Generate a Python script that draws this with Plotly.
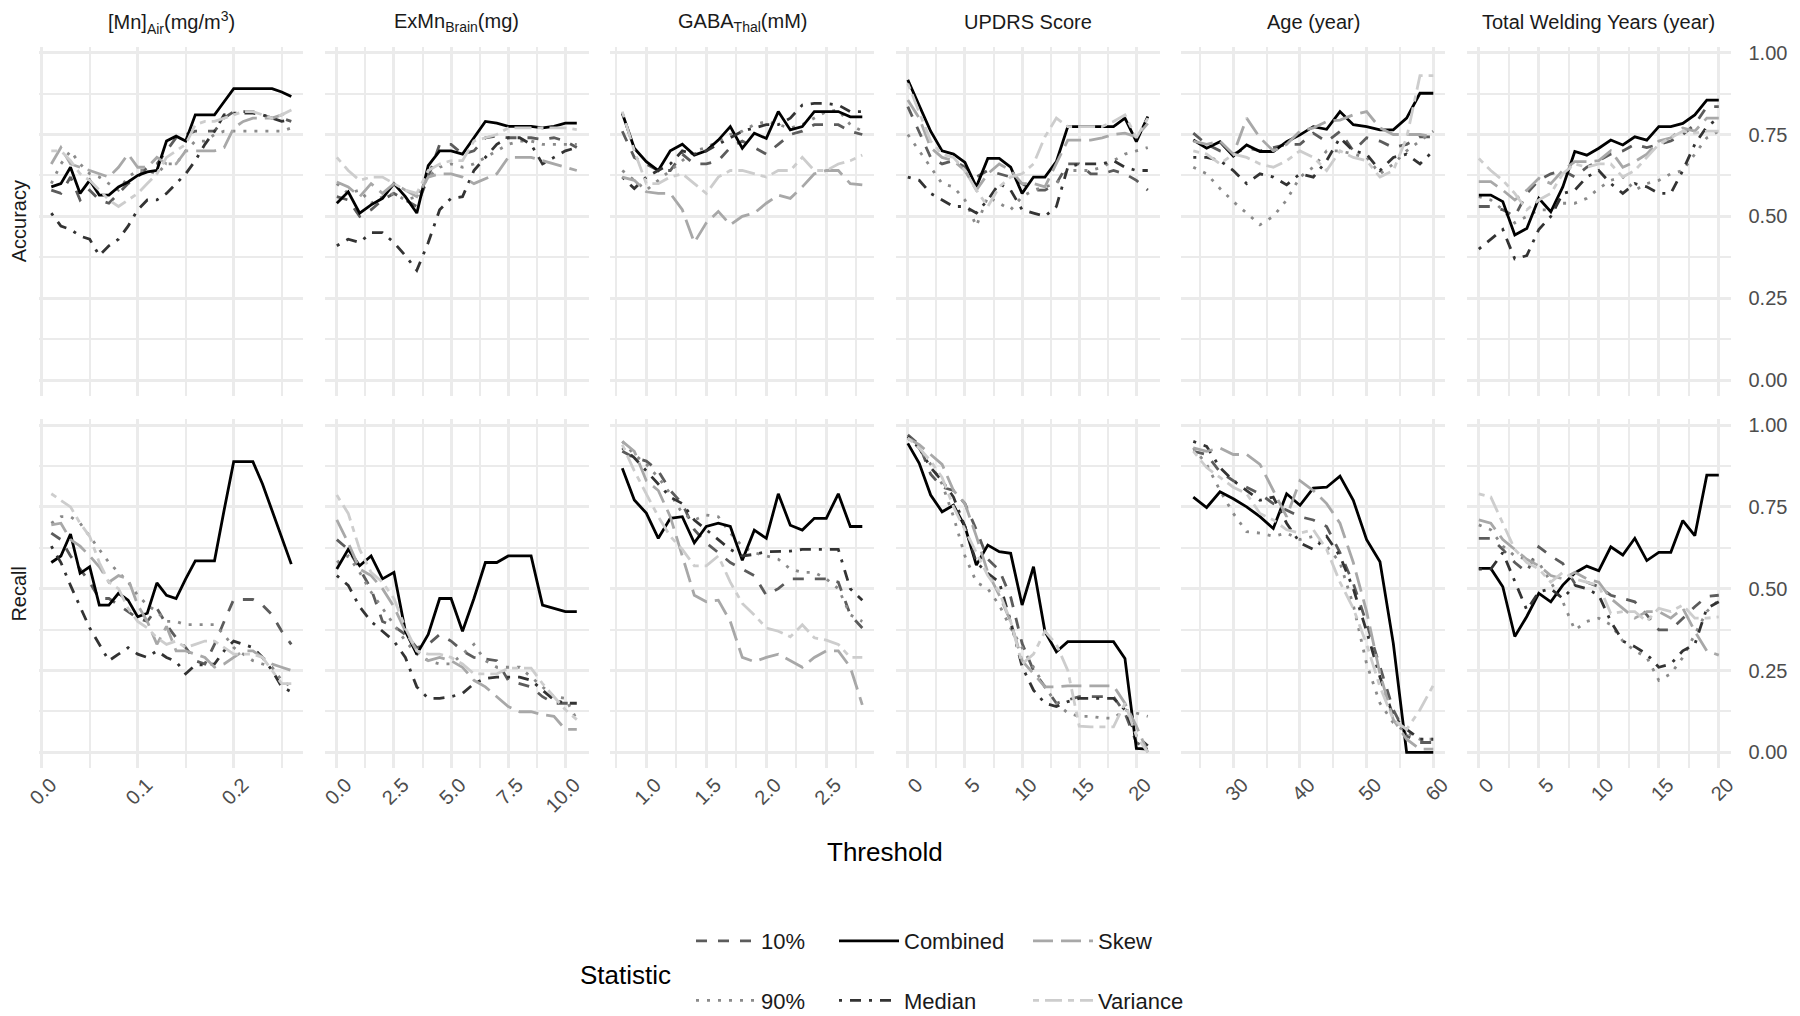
import plotly.graph_objects as go

W, H = 1800, 1016
FONT = "Liberation Sans, Arial, sans-serif"
GRID = "#ebebeb"
TICK = "#4d4d4d"
STRIP = "#1a1a1a"

# panel geometry in px (page body adds 8px, so positions are pulled back by 8)
LEFT, STEP, PW = 31.3, 285.5, 264.0
ROWS = [(38.6, 387.9), (411.0, 760.2)]

ORDER = ["10%", "90%", "Combined", "Median", "Skew", "Variance"]
STYLE = {
    "10%": dict(color="#5c5c5c", dash="11px,11px"),
    "90%": dict(color="#8a8a8a", dash="3px,8px"),
    "Combined": dict(color="#000000", dash="solid"),
    "Median": dict(color="#333333", dash="3px,8px,11px,8px"),
    "Skew": dict(color="#a8a8a8", dash="20px,8px"),
    "Variance": dict(color="#cdcdcd", dash="6px,6px,17px,6px"),
}
# legend columns as in the ggplot guide: (10%, 90%) (Combined, Median) (Skew, Variance)
LEGEND_OF = {"10%": "legend", "90%": "legend", "Combined": "legend2",
             "Median": "legend2", "Skew": "legend3", "Variance": "legend3"}
LEGEND_X = {"legend": 683.0, "legend2": 826.0, "legend3": 1020.0}

# [Mn]Air
MN_X = [0.01, 0.02, 0.03, 0.04, 0.05, 0.06, 0.07, 0.08, 0.09, 0.10, 0.11, 0.12, 0.13,
        0.14, 0.15, 0.16, 0.17, 0.18, 0.19, 0.20, 0.21, 0.22, 0.23, 0.24, 0.25, 0.26]
MN_ACC = {
    "10%": [.58, .57, .62, .55, .58, .55, .54, .57, .60, .62, .65, .66, .70, .74, .75, .76, .76, .76, .80, .82, .82, .82, .81, .80, .80, .79],
    "90%": [.60, .66, .70, .66, .63, .62, .60, .58, .62, .64, .64, .63, .66, .66, .70, .73, .73, .75, .76, .76, .76, .76, .76, .76, .76, .77],
    "Combined": [.59, .60, .65, .57, .61, .565, .565, .59, .605, .625, .636, .64, .73, .745, .73, .81, .81, .81, .85, .89, .89, .89, .89, .89, .88, .866],
    "Median": [.51, .47, .46, .44, .43, .38, .41, .43, .47, .52, .55, .55, .57, .60, .63, .67, .72, .76, .81, .815, .815, .815, .81, .80, .79, .795],
    "Skew": [.66, .71, .66, .65, .64, .63, .62, .65, .69, .65, .65, .68, .66, .66, .70, .70, .70, .70, .71, .77, .79, .80, .80, .80, .81, .825],
    "Variance": [.70, .70, .67, .63, .61, .58, .55, .53, .55, .57, .60, .63, .68, .70, .72, .78, .79, .79, .80, .81, .82, .82, .81, .80, .81, .825],
}
MN_REC = {
    "10%": [.67, .65, .60, .56, .52, .47, .47, .45, .43, .41, .40, .44, .39, .35, .32, .28, .27, .33, .40, .467, .467, .467, .45, .42, .37, .33],
    "90%": [.70, .72, .72, .70, .66, .62, .58, .55, .52, .48, .45, .43, .40, .40, .39, .39, .39, .39, .36, .32, .30, .28, .27, .26, .22, .20],
    "Combined": [.58, .60, .667, .547, .567, .45, .45, .486, .465, .414, .425, .518, .48, .47, .53, .585, .585, .585, .74, .888, .888, .888, .82, .74, .66, .575],
    "Median": [.63, .58, .51, .445, .38, .33, .28, .30, .32, .30, .29, .31, .29, .277, .24, .267, .267, .27, .31, .34, .33, .32, .29, .25, .20, .185],
    "Skew": [.695, .70, .65, .63, .60, .567, .52, .54, .53, .45, .40, .33, .385, .31, .31, .30, .29, .26, .27, .29, .31, .31, .29, .27, .26, .25],
    "Variance": [.79, .77, .75, .70, .66, .58, .52, .50, .44, .40, .38, .35, .33, .34, .32, .33, .34, .34, .32, .30, .30, .30, .29, .25, .21, .21],
}

# ExMn Brain
EXMN_X = [0.0, 0.5, 1.0, 1.5, 2.0, 2.5, 3.0, 3.5, 4.0, 4.5, 5.0,
          5.5, 6.0, 6.5, 7.0, 7.5, 8.0, 8.5, 9.0, 9.5, 10.0, 10.5]
EXMN_ACC = {
    "10%": [.56, .55, .50, .52, .55, .57, .55, .53, .62, .72, .72, .69, .70, .74, .745, .74, .74, .74, .735, .74, .73, .71],
    "90%": [.60, .57, .58, .54, .56, .57, .55, .56, .62, .65, .66, .65, .66, .68, .70, .72, .73, .73, .72, .72, .72, .72],
    "Combined": [.54, .575, .51, .535, .555, .60, .56, .51, .655, .70, .70, .69, .74, .79, .785, .775, .775, .775, .77, .775, .785, .785],
    "Median": [.41, .43, .42, .45, .45, .42, .38, .335, .42, .52, .555, .56, .64, .68, .72, .74, .74, .72, .66, .68, .70, .71],
    "Skew": [.605, .59, .56, .60, .57, .60, .58, .56, .62, .63, .63, .62, .60, .615, .63, .68, .68, .68, .67, .66, .65, .64],
    "Variance": [.68, .64, .61, .62, .62, .60, .58, .57, .64, .66, .67, .67, .73, .74, .75, .77, .77, .77, .77, .77, .77, .765],
}
EXMN_REC = {
    "10%": [.65, .62, .56, .50, .40, .385, .36, .32, .33, .36, .34, .31, .29, .285, .28, .22, .21, .20, .17, .15, .15, .15],
    "90%": [.58, .60, .55, .49, .44, .39, .34, .30, .28, .27, .27, .30, .33, .28, .26, .26, .26, .23, .20, .17, .165, .10],
    "Combined": [.56, .62, .57, .60, .53, .55, .37, .30, .36, .47, .47, .37, .47, .58, .58, .60, .60, .60, .45, .44, .43, .43],
    "Median": [.54, .51, .445, .40, .37, .34, .29, .20, .165, .165, .17, .18, .21, .226, .23, .23, .23, .22, .19, .16, .15, .15],
    "Skew": [.71, .64, .56, .54, .50, .445, .37, .31, .28, .29, .28, .26, .22, .20, .17, .14, .124, .124, .115, .11, .07, .07],
    "Variance": [.786, .73, .62, .55, .52, .47, .38, .31, .30, .30, .29, .27, .24, .24, .24, .257, .257, .257, .21, .17, .13, .10],
}

# GABA Thal
GABA_X = [0.8, 0.9, 1.0, 1.1, 1.2, 1.3, 1.4, 1.5, 1.6, 1.7, 1.8,
          1.9, 2.0, 2.1, 2.2, 2.3, 2.4, 2.5, 2.6, 2.7, 2.8]
GABA_ACC = {
    "10%": [.76, .68, .66, .64, .64, .69, .66, .66, .67, .71, .73, .71, .69, .72, .75, .76, .78, .78, .78, .76, .75],
    "90%": [.64, .61, .58, .61, .64, .67, .70, .71, .73, .75, .76, .78, .79, .78, .77, .78, .80, .82, .825, .78, .76],
    "Combined": [.815, .708, .667, .64, .70, .72, .687, .70, .733, .774, .708, .754, .738, .82, .764, .774, .82, .82, .82, .804, .804],
    "Median": [.62, .585, .62, .64, .66, .70, .69, .70, .72, .74, .76, .77, .78, .78, .80, .84, .845, .845, .84, .82, .82],
    "Skew": [.62, .61, .575, .57, .57, .52, .42, .48, .515, .474, .50, .51, .54, .565, .555, .59, .63, .64, .64, .60, .596],
    "Variance": [.82, .70, .60, .60, .62, .63, .60, .57, .62, .64, .64, .63, .62, .64, .64, .68, .64, .64, .66, .67, .687],
}
GABA_REC = {
    "10%": [.92, .90, .89, .86, .80, .76, .68, .64, .61, .58, .56, .54, .48, .50, .53, .53, .53, .53, .52, .42, .38],
    "90%": [.95, .91, .88, .84, .79, .73, .71, .725, .72, .67, .63, .61, .60, .59, .56, .55, .55, .53, .50, .42, .40],
    "Combined": [.868, .771, .731, .654, .715, .72, .64, .69, .70, .69, .587, .679, .654, .79, .694, .679, .715, .715, .79, .69, .69],
    "Median": [.93, .90, .86, .82, .78, .76, .71, .68, .65, .62, .60, .605, .613, .615, .615, .62, .62, .62, .62, .50, .465],
    "Skew": [.95, .92, .83, .80, .72, .60, .48, .46, .465, .40, .29, .277, .29, .30, .28, .26, .29, .31, .31, .26, .145],
    "Variance": [.94, .86, .79, .72, .66, .62, .57, .57, .60, .52, .455, .42, .38, .37, .353, .39, .35, .343, .33, .29, .29],
}

# UPDRS Score
UPDRS_X = [0, 1, 2, 3, 4, 5, 6, 7, 8, 9, 10, 11, 12, 13, 14, 15, 16, 17, 18, 19, 20, 21]
UPDRS_ACC = {
    "10%": [.835, .76, .68, .66, .67, .65, .62, .64, .63, .62, .60, .58, .58, .60, .66, .66, .63, .63, .64, .63, .61, .58],
    "90%": [.75, .70, .65, .60, .59, .55, .47, .56, .54, .52, .56, .58, .59, .60, .64, .64, .64, .65, .67, .69, .70, .71],
    "Combined": [.917, .84, .76, .70, .69, .665, .59, .677, .677, .65, .57, .62, .62, .667, .774, .774, .774, .774, .774, .80, .728, .805],
    "Median": [.62, .61, .57, .55, .53, .53, .51, .55, .60, .58, .52, .51, .50, .53, .65, .66, .66, .66, .67, .65, .64, .64],
    "Skew": [.855, .80, .71, .68, .67, .64, .58, .63, .66, .64, .60, .60, .59, .66, .733, .733, .733, .74, .75, .754, .743, .784],
    "Variance": [.906, .82, .73, .69, .68, .64, .58, .53, .59, .62, .63, .66, .743, .80, .774, .774, .774, .774, .79, .81, .74, .80],
}
UPDRS_REC = {
    "10%": [.97, .94, .85, .81, .80, .76, .68, .59, .557, .475, .333, .25, .20, .15, .16, .17, .17, .17, .17, .12, .03, .01],
    "90%": [.96, .93, .88, .82, .72, .60, .52, .50, .45, .38, .32, .26, .20, .15, .12, .11, .11, .105, .104, .13, .12, .11],
    "Combined": [.944, .883, .786, .735, .755, .69, .572, .633, .613, .608, .45, .567, .369, .307, .338, .338, .338, .338, .338, .287, .012, .01],
    "Median": [.965, .93, .87, .83, .78, .69, .58, .547, .52, .40, .262, .19, .15, .14, .155, .165, .165, .165, .165, .13, .05, .02],
    "Skew": [.96, .94, .91, .88, .80, .76, .66, .55, .48, .40, .28, .24, .20, .20, .203, .203, .203, .203, .203, .15, .08, .00],
    "Variance": [.96, .93, .89, .84, .75, .68, .61, .54, .49, .40, .27, .30, .37, .33, .25, .08, .078, .078, .078, .15, .05, .00],
}

# Age
AGE_X = [24, 26, 28, 30, 32, 34, 36, 38, 40, 42, 44, 46, 48, 50, 52, 54, 56, 58, 60]
AGE_ACC = {
    "10%": [.754, .72, .70, .69, .71, .70, .71, .72, .72, .754, .728, .759, .70, .74, .73, .71, .72, .743, .743],
    "90%": [.65, .63, .585, .545, .51, .474, .50, .55, .62, .65, .70, .70, .69, .68, .63, .66, .70, .73, .76],
    "Combined": [.733, .708, .728, .684, .718, .698, .698, .728, .749, .774, .766, .82, .78, .774, .764, .764, .80, .876, .876],
    "Median": [.68, .68, .67, .64, .60, .63, .62, .596, .63, .62, .67, .74, .70, .69, .64, .68, .69, .66, .70],
    "Skew": [.73, .72, .73, .69, .80, .74, .70, .72, .76, .77, .79, .794, .81, .82, .77, .75, .75, .75, .743],
    "Variance": [.70, .69, .66, .69, .68, .66, .65, .67, .70, .68, .64, .70, .68, .67, .62, .64, .74, .93, .93],
}
AGE_REC = {
    "10%": [.92, .91, .857, .83, .81, .79, .76, .74, .72, .71, .69, .61, .516, .394, .26, .13, .05, .03, .03],
    "90%": [.93, .88, .80, .73, .674, .67, .66, .67, .65, .66, .63, .58, .45, .27, .15, .09, .06, .04, .04],
    "Combined": [.78, .748, .796, .775, .75, .72, .684, .79, .755, .807, .81, .844, .77, .65, .582, .333, .00, .00, .00],
    "Median": [.95, .935, .87, .83, .80, .77, .78, .70, .64, .62, .66, .60, .50, .37, .23, .11, .07, .04, .04],
    "Skew": [.93, .92, .93, .91, .91, .88, .80, .72, .83, .80, .76, .70, .58, .43, .24, .10, .04, .01, .01],
    "Variance": [.92, .87, .84, .81, .79, .73, .71, .68, .67, .68, .62, .52, .44, .33, .20, .10, .07, .13, .205],
}

# Total Welding Years
WELD_X = [0, 1, 2, 3, 4, 5, 6, 7, 8, 9, 10, 11, 12, 13, 14, 15, 16, 17, 18, 19, 20]
WELD_ACC = {
    "10%": [.53, .53, .52, .50, .57, .61, .63, .64, .62, .65, .67, .69, .70, .72, .71, .72, .73, .75, .78, .835, .835],
    "90%": [.56, .55, .52, .48, .50, .52, .52, .54, .54, .555, .585, .61, .62, .58, .60, .61, .63, .64, .69, .74, .76],
    "Combined": [.565, .565, .545, .443, .463, .555, .514, .59, .698, .687, .708, .733, .718, .743, .733, .774, .774, .784, .81, .855, .855],
    "Median": [.40, .43, .46, .37, .38, .46, .50, .57, .58, .62, .64, .60, .57, .60, .59, .57, .57, .64, .72, .774, .80],
    "Skew": [.606, .606, .58, .55, .58, .616, .60, .64, .667, .667, .67, .70, .65, .667, .69, .73, .74, .77, .76, .80, .80],
    "Variance": [.677, .64, .61, .57, .52, .55, .57, .63, .66, .65, .66, .66, .62, .64, .68, .72, .74, .76, .754, .76, .76],
}
WELD_REC = {
    "10%": [.654, .654, .62, .58, .55, .628, .60, .577, .516, .52, .506, .48, .47, .46, .42, .374, .374, .41, .445, .476, .48],
    "90%": [.695, .68, .63, .60, .59, .58, .52, .46, .374, .40, .41, .39, .34, .31, .29, .22, .24, .29, .36, .43, .465],
    "Combined": [.562, .562, .506, .354, .415, .486, .46, .511, .548, .569, .555, .628, .603, .654, .586, .611, .611, .708, .662, .847, .847],
    "Median": [.56, .56, .61, .52, .435, .49, .50, .47, .51, .50, .48, .40, .34, .323, .30, .26, .27, .31, .33, .44, .46],
    "Skew": [.71, .70, .65, .62, .59, .57, .54, .53, .55, .53, .52, .47, .44, .41, .43, .43, .41, .44, .37, .31, .297],
    "Variance": [.79, .78, .70, .62, .58, .56, .52, .55, .53, .52, .51, .424, .43, .43, .40, .44, .43, .45, .41, .41, .414],
}

# x data, accuracy, recall, strip title, major dtick, minor dtick, tick format
PANELS = [
    (MN_X, MN_ACC, MN_REC, "[Mn]<sub>Air</sub>(mg/m<sup>3</sup>)", 0.1, 0.05, ".1f"),
    (EXMN_X, EXMN_ACC, EXMN_REC, "ExMn<sub>Brain</sub>(mg)", 2.5, 1.25, ".1f"),
    (GABA_X, GABA_ACC, GABA_REC, "GABA<sub>Thal</sub>(mM)", 0.5, 0.25, ".1f"),
    (UPDRS_X, UPDRS_ACC, UPDRS_REC, "UPDRS Score", 5, 2.5, "d"),
    (AGE_X, AGE_ACC, AGE_REC, "Age (year)", 10, 5, "d"),
    (WELD_X, WELD_ACC, WELD_REC, "Total Welding Years (year)", 5, 2.5, "d"),
]
ROW_NAMES = ["Accuracy", "Recall"]


def expand(lo, hi, mult=0.05):
    pad = (hi - lo) * mult
    return [lo - pad, hi + pad]


def note(text, x, y, size=20, color=STRIP, **kw):
    return dict(text=text, x=x / W, y=1 - y / H, xref="paper", yref="paper",
                showarrow=False, yanchor="middle",
                font=dict(size=size, color=color, family=FONT), **kw)


all_y = [v for p in PANELS for d in (p[1], p[2]) for s in d.values() for v in s]
Y_RANGE = expand(min(all_y), max(all_y))

fig = go.Figure()
layout = {}
annotations = []

for c, (xs, acc, rec, title, dt, mdt, fmt) in enumerate(PANELS):
    left = LEFT + c * STEP
    x_range = expand(min(xs), max(xs))
    for r, data in enumerate((acc, rec)):
        k = r * 6 + c + 1
        sfx = "" if k == 1 else str(k)
        for s in ORDER:
            fig.add_trace(go.Scatter(
                x=xs, y=data[s], xaxis="x" + sfx, yaxis="y" + sfx, mode="lines",
                name=s, legendgroup=s, legend=LEGEND_OF[s], showlegend=(k == 1),
                line=dict(width=2.8, **STYLE[s]),
                hovertemplate=s + "<br>%{x}<br>%{y:.2f}<extra></extra>"))
        top, bot = ROWS[r]
        layout["xaxis" + sfx] = dict(
            domain=[left / W, (left + PW) / W], anchor="y" + sfx, range=x_range,
            tick0=0, dtick=dt, tickformat=fmt, tickangle=-45, ticklabelshift=9,
            showticklabels=(r == 1), ticks="", showline=False, zeroline=False,
            showgrid=True, gridcolor=GRID, gridwidth=3,
            minor=dict(dtick=mdt, showgrid=True, gridcolor=GRID, gridwidth=1.6),
            tickfont=dict(size=20, color=TICK, family=FONT))
        layout["yaxis" + sfx] = dict(
            domain=[1 - bot / H, 1 - top / H], anchor="x" + sfx, range=Y_RANGE,
            tick0=0, dtick=0.25, tickformat=".2f", side="right",
            tickprefix="\u00a0\u00a0\u00a0",
            showticklabels=(c == 5), ticks="", showline=False, zeroline=False,
            showgrid=True, gridcolor=GRID, gridwidth=3,
            minor=dict(dtick=0.125, showgrid=True, gridcolor=GRID, gridwidth=1.6),
            tickfont=dict(size=20, color=TICK, family=FONT))
    annotations.append(note(title, left + PW / 2, 14.5, xanchor="center"))

for r, name in enumerate(ROW_NAMES):
    top, bot = ROWS[r]
    annotations.append(note(name, 11, (top + bot) / 2, textangle=-90, xanchor="center"))

annotations.append(note("Threshold", 877, 844, size=26, color="#000000", xanchor="center"))
annotations.append(note("Statistic", 569.5, 966.5, size=26, color="#000000", xanchor="left"))

legends = {}
for key, lx in LEGEND_X.items():
    legends[key] = dict(orientation="v", x=lx / W, xanchor="left",
                        y=1 - 963 / H, yanchor="middle", tracegroupgap=28,
                        itemwidth=60, bgcolor="rgba(0,0,0,0)",
                        font=dict(size=22, color=STRIP, family=FONT))

fig.update_layout(
    **layout,
    **legends,
    annotations=annotations,
    width=W, height=H,
    margin=dict(l=0, r=0, t=0, b=0, autoexpand=False),
    paper_bgcolor="white", plot_bgcolor="white",
    font=dict(family=FONT, color=STRIP),
)

fig.write_html("out.html")
